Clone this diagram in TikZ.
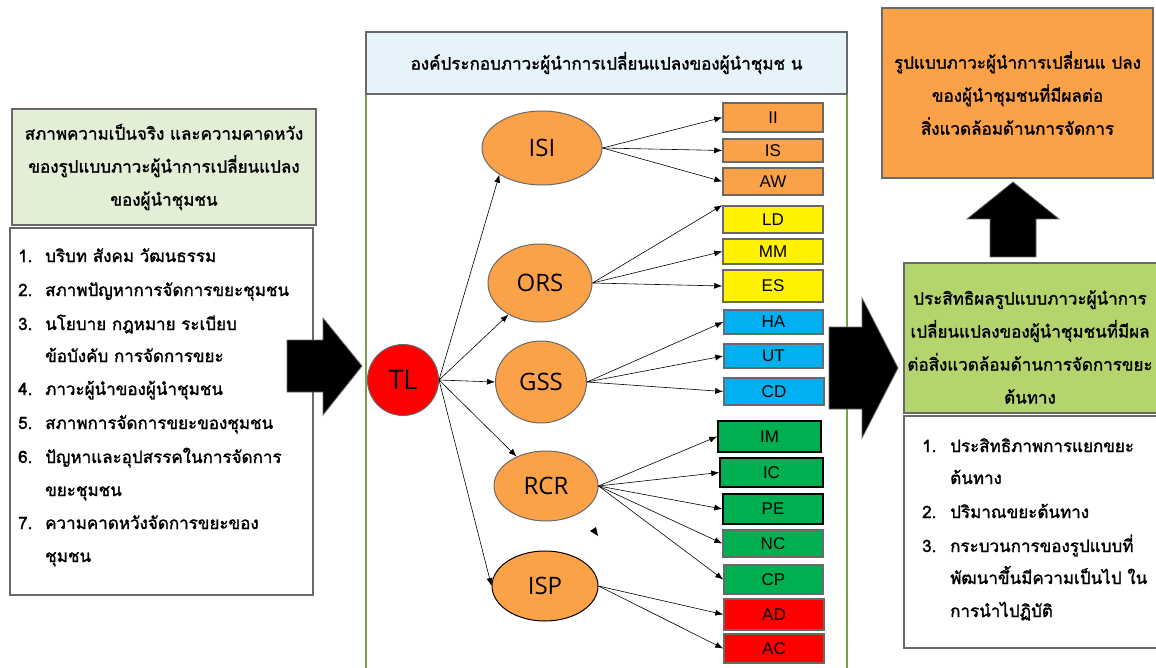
\documentclass[tikz,border=0pt]{standalone}
\usepackage{fontspec}
\setmainfont{Liberation Sans}
\newfontfamily\thaifont[Script=Thai,FakeBold=1.6]{Loma}
\newfontfamily\ovalfont{Open Sans}
\usetikzlibrary{shapes.geometric,arrows.meta}

\definecolor{orng}{RGB}{251,161,72}
\definecolor{lgreen}{RGB}{226,239,214}
\definecolor{mgreen}{RGB}{180,213,110}
\definecolor{lblue}{RGB}{231,243,250}
\definecolor{olive}{RGB}{120,160,75}
\definecolor{framegray}{RGB}{105,105,105}
\definecolor{skyblue}{RGB}{0,176,240}
\definecolor{leaf}{RGB}{0,176,80}

\tikzset{
  frame/.style={draw=framegray, line width=1.3pt, inner sep=0pt},
  thai/.style={font=\thaifont\fontsize{17}{33}\selectfont},
  item/.style={thai, anchor=west, inner sep=0pt, text height=12pt, text depth=4pt},
  oval/.style={ellipse, draw=framegray, line width=1pt, fill=orng, inner sep=0pt,
    font=\ovalfont\fontsize{24}{24}\selectfont},
  tag/.style={draw=framegray, line width=1.5pt, minimum width=100pt, inner sep=0pt,
    font=\fontsize{17}{17}\selectfont},
  link/.style={-{Latex[length=8pt,width=6pt]}, line width=0.6pt},
  fatarrow/.style={fill=black, draw=framegray, line width=0.8pt},
}

\begin{document}
\begin{tikzpicture}[x=1pt,y=-1pt]
\useasboundingbox (0,0) rectangle (1156,668);

% left: situation and expectations
\node[frame, fill=lgreen, minimum width=304pt, minimum height=116pt, thai, align=center] (cond) at (164,167)
  {สภาพความเป็นจริง และความคาดหวัง\\ของรูปแบบภาวะผู้นำการเปลี่ยนแปลง\\ของผู้นำชุมชน};
\node[frame, minimum width=303pt, minimum height=367pt] (factors) at (161.5,411.5) {};
\foreach \y/\n/\t in {258/1./บริบท สังคม วัฒนธรรม, 292/2./สภาพปัญหาการจัดการขยะชุมชน,
  326/3./นโยบาย กฎหมาย ระเบียบ, 358//ข้อบังคับ การจัดการขยะ, 391/4./ภาวะผู้นำของผู้นำชุมชน,
  425/5./สภาพการจัดการขยะของชุมชน, 459/6./ปัญหาและอุปสรรคในการจัดการ, 492//ขยะชุมชน,
  525/7./ความคาดหวังจัดการขยะของ, 558//ชุมชน}{
  \node[item] (fn\y) at (18,\y) {\n};
  \node[item] (ft\y) at (45,\y) {\t};
}
\draw[fatarrow] (287,340) -- (323,340) -- (323,318) -- (362,366) -- (323,415) -- (323,392) -- (287,392) -- cycle;

% centre: components
\node[draw=olive, line width=1.5pt, minimum width=481pt, minimum height=600pt] (panel) at (606.5,393) {};
\node[frame, fill=lblue, minimum width=481pt, minimum height=62pt, thai] (head) at (606.5,63)
  {องค์ประกอบภาวะผู้นำการเปลี่ยนแปลงของผู้นำชุมช น};
\node[circle, draw=framegray, line width=1pt, fill=red, minimum size=71pt, inner sep=0pt,
  font=\ovalfont\fontsize{27}{27}\selectfont] (tl) at (403,380) {TL};

\node[oval, minimum width=120pt, minimum height=74pt] (isi) at (542,148) {ISI};
\node[oval, minimum width=104pt, minimum height=78pt] (ors) at (540,283) {ORS};
\node[oval, minimum width=91pt, minimum height=82pt] (gss) at (541,382) {GSS};
\node[oval, minimum width=104pt, minimum height=70pt] (rcr) at (546,486) {RCR};
\node[oval, draw=black, minimum width=106pt, minimum height=70pt] (isp) at (545,586) {ISP};

\node[tag, fill=orng, minimum height=29pt] (ii) at (773,117.5) {II};
\node[tag, fill=orng, minimum height=23pt] (is) at (773,150.5) {IS};
\node[tag, fill=orng, minimum height=27pt] (aw) at (773,181.5) {AW};
\node[tag, fill=yellow, minimum height=27pt] (ld) at (773,219.5) {LD};
\node[tag, fill=yellow, minimum height=25pt] (mm) at (773,251.5) {MM};
\node[tag, fill=yellow, minimum height=32pt] (es) at (773,286) {ES};
\node[tag, fill=skyblue, minimum width=99pt, minimum height=24pt] (ha) at (773.5,322) {HA};
\node[tag, fill=skyblue, minimum width=99pt, minimum height=24pt] (ut) at (773.5,356) {UT};
\node[tag, fill=skyblue, minimum height=27pt] (cd) at (774,391.5) {CD};
\node[tag, draw=black, fill=leaf, minimum width=103pt, minimum height=31pt] (im) at (769.5,436.5) {IM};
\node[tag, draw=black, fill=leaf, minimum width=103pt, minimum height=29pt] (ic) at (771.5,472.5) {IC};
\node[tag, draw=black, fill=leaf, minimum height=30pt] (pe) at (773,509) {PE};
\node[tag, fill=leaf, minimum height=27pt] (nc) at (773,543.5) {NC};
\node[tag, fill=leaf, minimum width=99pt, minimum height=29pt] (cp) at (773.5,579.5) {CP};
\node[tag, fill=red, minimum height=31pt] (ad) at (774,614.5) {AD};
\node[tag, fill=red, minimum height=29pt] (ac) at (774,648.5) {AC};

\draw[link] (tl.east) -- (isi.212);
\draw[link] (tl.east) -- (ors.225);
\draw[link] (tl.east) -- (gss.west);
\draw[link] (tl.east) -- (rcr.135);
\draw[link] (tl.east) -- (isp.west);
\draw[link] (isi.east) -- (ii.west);
\draw[link] (isi.east) -- (is.west);
\draw[link] (isi.east) -- (aw.west);
\draw[link] (ors.east) -- (ld.north west);
\draw[link] (ors.east) -- (mm.west);
\draw[link] (ors.east) -- (es.west);
\draw[link] (gss.east) -- (ha.west);
\draw[link] (gss.east) -- (ut.west);
\draw[link] (gss.east) -- (cd.west);
\draw[link] (rcr.east) -- (im.west);
\draw[link] (rcr.east) -- (ic.west);
\draw[link] (rcr.east) -- (pe.west);
\draw[link] (rcr.east) -- (nc.west);
\draw[link] (rcr.east) -- (cp.west);
\draw[link] (isp.east) -- (ad.west);
\draw[link] (isp.east) -- (ac.west);
\fill (590,531) -- (596,527) -- (598,536) -- cycle;

% right: model and its effect
\node[frame, fill=orng, minimum width=271pt, minimum height=170pt, thai, align=center] (model) at (1017.5,93)
  {รูปแบบภาวะผู้นำการเปลี่ยนแ ปลง\\ของผู้นำชุมชนที่มีผลต่อ\\สิ่งแวดล้อมด้านการจัดการ};
\draw[fatarrow] (1013,182) -- (1059,219) -- (1036,219) -- (1036,257) -- (990,257) -- (990,219) -- (967,219) -- cycle;
\draw[fatarrow] (829,327) -- (862,327) -- (862,298) -- (898,368) -- (862,438) -- (862,409) -- (829,409) -- cycle;

\node[frame, fill=mgreen, minimum width=256pt, minimum height=150pt] (effect) at (1032,338) {};
\node[thai, align=center] (effecttext) at (1030,347)
  {ประสิทธิผลรูปแบบภาวะผู้นำการ\\เปลี่ยนแปลงของผู้นำชุมชนที่มีผล\\ต่อสิ่งแวดล้อมด้านการจัดการขยะ\\ต้นทาง};
\node[frame, minimum width=256pt, minimum height=232pt] (measure) at (1032,532) {};
\foreach \y/\n/\t in {448/1./ประสิทธิภาพการแยกขยะ, 480//ต้นทาง, 514/2./ปริมาณขยะต้นทาง,
  548/3./กระบวนการของรูปแบบที่, 580//พัฒนาขึ้นมีความเป็นไป ใน, 613//การนำไปฏิบัติ}{
  \node[item] (mn\y) at (922,\y) {\n};
  \node[item] (mt\y) at (950,\y) {\t};
}
\end{tikzpicture}
\end{document}
